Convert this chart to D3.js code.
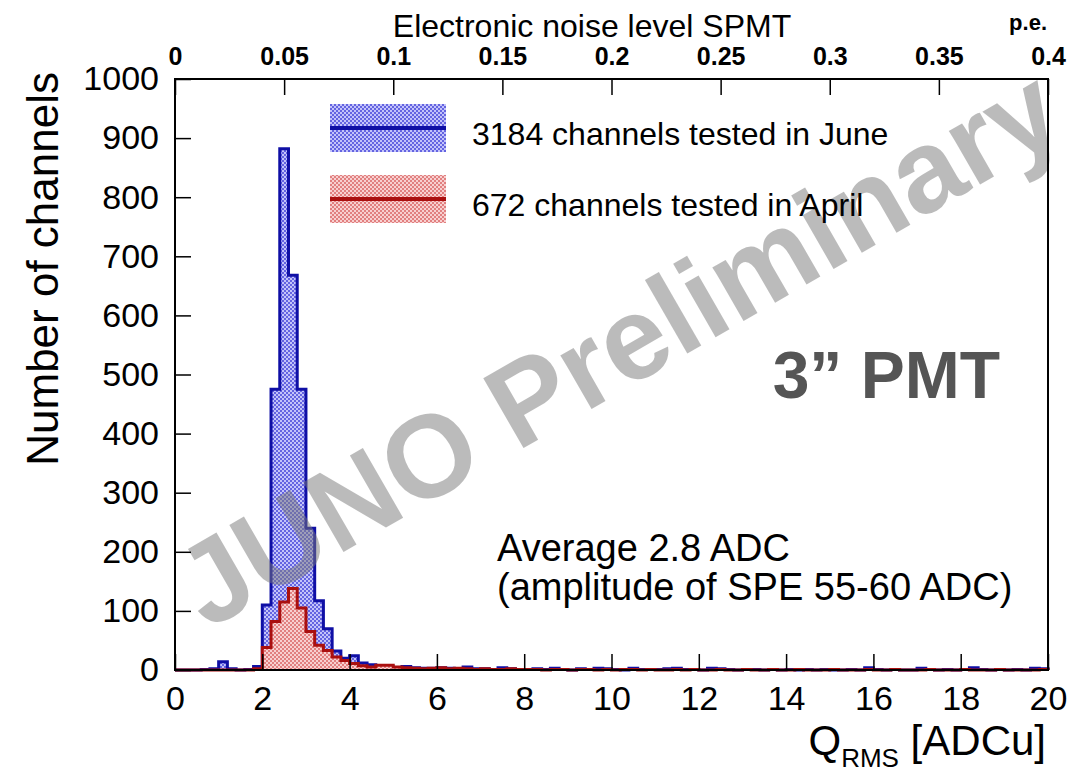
<!DOCTYPE html>
<html>
<head>
<meta charset="utf-8">
<script src="https://cdn.jsdelivr.net/npm/d3@7"></script>
<style>
  body { margin: 0; background: #fff; }
  svg { font-family: "Liberation Sans", Arial, Helvetica, sans-serif; }
</style>
</head>
<body>
<div id="chart"></div>
<script>
// histogram bins: 100 bins of 0.2 ADCu from 0 to 20
var binWidth = 0.2;
var juneCounts = [
  0, 0, 0, 1, 2, 14, 2, 0, 1, 6,
  110, 475, 882, 668, 475, 240, 117, 70, 32, 20,
  24, 12, 9, 7, 5, 4, 6, 4, 3, 3,
  4, 3, 2, 5, 2, 2, 1, 4, 2, 1,
  1, 2, 1, 3, 1, 0, 2, 1, 3, 2,
  1, 0, 3, 1, 1, 1, 2, 3, 1, 1,
  0, 3, 2, 1, 0, 1, 1, 0, 1, 0,
  1, 0, 1, 0, 1, 0, 0, 1, 0, 4,
  1, 0, 1, 0, 0, 3, 1, 0, 1, 0,
  1, 4, 1, 0, 1, 0, 1, 0, 3, 2
];
var aprilCounts = [
  0, 0, 0, 0, 0, 0, 0, 0, 0, 2,
  38, 82, 115, 138, 105, 65, 42, 33, 22, 16,
  11, 7, 5, 8, 8, 5, 4, 3, 2, 3,
  4, 2, 3, 2, 1, 2, 1, 1, 2, 1,
  1, 1, 0, 1, 1, 0, 1, 1, 0, 1,
  0, 1, 1, 0, 1, 0, 0, 1, 0, 1,
  0, 0, 1, 0, 0, 1, 0, 0, 1, 0,
  0, 1, 0, 0, 0, 1, 0, 0, 0, 1,
  0, 0, 1, 0, 0, 0, 1, 0, 0, 0,
  1, 0, 0, 0, 1, 0, 0, 0, 0, 1
];
var seriesNames = ["3184 channels tested in June", "672 channels tested in April"];

var xTicks = [0, 2, 4, 6, 8, 10, 12, 14, 16, 18, 20];
var yTicks = [0, 100, 200, 300, 400, 500, 600, 700, 800, 900, 1000];
var topTicks = [0, 0.05, 0.1, 0.15, 0.2, 0.25, 0.3, 0.35, 0.4];
var topTickLabels = ["0", "0.05", "0.1", "0.15", "0.2", "0.25", "0.3", "0.35", "0.4"];

var W = 1090, H = 769;
// plot frame (window.top is reserved, so use a prefix)
var fLeft = 175, fRight = 1048, fTop = 79, fBottom = 670;

var svg = d3.select("#chart").append("svg")
  .attr("width", W)
  .attr("height", H);

var x = d3.scaleLinear().domain([0, 20]).range([fLeft, fRight]);
var xTop = d3.scaleLinear().domain([0, 0.4]).range([fLeft, fRight]);
var y = d3.scaleLinear().domain([0, 1000]).range([fBottom, fTop]);

// fill patterns, a dotted hatch like ROOT style 3001
var defs = svg.append("defs");
function dotPattern(id, bg, dot) {
  var p = defs.append("pattern")
    .attr("id", id)
    .attr("width", 4)
    .attr("height", 4)
    .attr("patternUnits", "userSpaceOnUse");
  p.append("rect").attr("width", 4).attr("height", 4).attr("fill", bg);
  p.append("rect").attr("x", 0).attr("y", 0).attr("width", 2).attr("height", 2).attr("fill", dot);
  p.append("rect").attr("x", 2).attr("y", 2).attr("width", 2).attr("height", 2).attr("fill", dot);
}
dotPattern("blueDots", "rgb(100,100,225)", "rgb(195,195,250)");
dotPattern("redDots", "rgb(225,128,128)", "rgb(248,208,208)");

function toPoints(counts) {
  var pts = counts.map(function (c, i) { return [i * binWidth, c]; });
  pts.push([counts.length * binWidth, counts[counts.length - 1]]);
  return pts;
}

var area = d3.area()
  .x(function (d) { return x(d[0]); })
  .y0(y(0))
  .y1(function (d) { return y(d[1]); })
  .curve(d3.curveStepAfter);

var line = d3.line()
  .x(function (d) { return x(d[0]); })
  .y(function (d) { return y(d[1]); })
  .curve(d3.curveStepAfter);

function drawHist(counts, fill, stroke) {
  var pts = toPoints(counts);
  svg.append("path")
    .attr("d", area(pts))
    .attr("fill", fill);
  var outline = [[0, 0]].concat(pts);
  outline.push([20, 0]);
  svg.append("path")
    .attr("d", line(outline))
    .attr("fill", "none")
    .attr("stroke", stroke)
    .attr("stroke-width", 3)
    .attr("stroke-linejoin", "miter");
}

drawHist(juneCounts, "url(#blueDots)", "rgb(15,15,165)");
drawHist(aprilCounts, "url(#redDots)", "rgb(170,15,15)");

// watermark
svg.append("text")
  .attr("transform", "translate(638,382) rotate(-30)")
  .attr("text-anchor", "middle")
  .style("font-size", "117px")
  .style("font-weight", "bold")
  .style("fill", "#7a7a7a")
  .style("opacity", 0.5)
  .text("JUNO Preliminary");

// frame
svg.append("rect")
  .attr("x", fLeft)
  .attr("y", fTop)
  .attr("width", fRight - fLeft)
  .attr("height", fBottom - fTop)
  .attr("fill", "none")
  .attr("stroke", "#000")
  .attr("stroke-width", 2);

// axes
function minorTicks(a, b, step) {
  return d3.range(Math.round((b - a) / step) + 1).map(function (i) { return a + i * step; });
}

var gx = svg.append("g").attr("transform", "translate(0," + fBottom + ")");
gx.call(d3.axisBottom(x).tickValues(minorTicks(0, 20, 0.5)).tickSize(-8).tickFormat(""));
gx.call(d3.axisBottom(x).tickValues(xTicks).tickSize(-16).tickPadding(16).tickFormat(d3.format("d")));

var gy = svg.append("g").attr("transform", "translate(" + fLeft + ",0)");
gy.call(d3.axisLeft(y).tickValues(minorTicks(0, 1000, 20)).tickSize(-8).tickFormat(""));
gy.call(d3.axisLeft(y).tickValues(yTicks).tickSize(-16).tickPadding(16).tickFormat(d3.format("d")));

var gt = svg.append("g").attr("transform", "translate(0," + fTop + ")");
gt.call(d3.axisTop(xTop).tickValues(minorTicks(0, 0.4, 0.01)).tickSize(-8).tickFormat(""));
gt.call(d3.axisTop(xTop).tickValues(topTicks).tickSize(-16).tickPadding(14)
  .tickFormat(function (d, i) { return topTickLabels[i]; }));

svg.selectAll(".domain").remove();
svg.selectAll(".tick line").attr("stroke", "#000").attr("stroke-width", 1.5);
gx.selectAll("text").style("font-size", "34px").attr("fill", "#000");
gy.selectAll("text").style("font-size", "34px").attr("fill", "#000");
gt.selectAll("text").style("font-size", "25px").style("font-weight", "bold").attr("fill", "#000");

// axis titles
svg.append("text")
  .attr("transform", "translate(58,72) rotate(-90)")
  .attr("text-anchor", "end")
  .style("font-size", "44px")
  .text("Number of channels");

var xt = svg.append("text")
  .attr("x", 1046)
  .attr("y", 755)
  .attr("text-anchor", "end")
  .style("font-size", "42px");
xt.append("tspan").text("Q");
xt.append("tspan").attr("dy", 12).style("font-size", "26px").text("RMS");
xt.append("tspan").attr("dy", -12).text(" [ADCu]");

svg.append("text")
  .attr("x", 592)
  .attr("y", 37)
  .attr("text-anchor", "middle")
  .style("font-size", "32px")
  .text("Electronic noise level SPMT");

svg.append("text")
  .attr("x", 1047)
  .attr("y", 30)
  .attr("text-anchor", "end")
  .style("font-size", "22px")
  .style("font-weight", "bold")
  .text("p.e.");

// legend
var legend = [
  { name: seriesNames[0], fill: "url(#blueDots)", stroke: "rgb(15,15,165)", y0: 104 },
  { name: seriesNames[1], fill: "url(#redDots)", stroke: "rgb(170,15,15)", y0: 175 }
];
legend.forEach(function (d) {
  svg.append("rect")
    .attr("x", 330).attr("y", d.y0)
    .attr("width", 116).attr("height", 48)
    .attr("fill", d.fill);
  svg.append("line")
    .attr("x1", 330).attr("x2", 446)
    .attr("y1", d.y0 + 24).attr("y2", d.y0 + 24)
    .attr("stroke", d.stroke)
    .attr("stroke-width", 4);
  svg.append("text")
    .attr("x", 472)
    .attr("y", d.y0 + 41)
    .style("font-size", "32px")
    .text(d.name);
});

// annotations
svg.append("text")
  .attr("x", 1000).attr("y", 398)
  .attr("text-anchor", "end")
  .style("font-size", "66px")
  .style("font-weight", "bold")
  .style("fill", "#555")
  .text("3\u201d PMT");

svg.append("text")
  .attr("x", 497).attr("y", 561)
  .style("font-size", "38px")
  .text("Average 2.8 ADC");

svg.append("text")
  .attr("x", 497).attr("y", 600)
  .style("font-size", "38px")
  .text("(amplitude of SPE 55-60 ADC)");
</script>
</body>
</html>
